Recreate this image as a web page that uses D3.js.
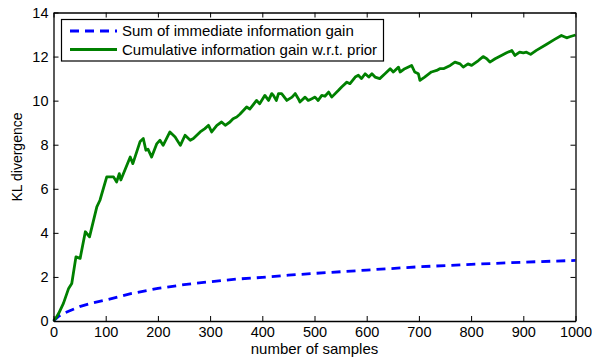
<!DOCTYPE html>
<html>
<head>
<meta charset="utf-8">
<script src="https://cdn.jsdelivr.net/npm/d3@7"></script>
<style>
  body { margin: 0; background: #fff; }
  text { font-family: "Liberation Sans", Arial, sans-serif; fill: #000; }
</style>
</head>
<body>
<div id="chart"></div>
<script>
// Sum of immediate information gain (blue dashed)
const blueN = [0, 10, 20, 30, 50, 75, 100, 150, 200, 250, 300, 350, 400, 450, 500, 600, 700, 800, 900, 1000];
const blueVals = [0, 0.22, 0.35, 0.45, 0.65, 0.82, 0.95, 1.25, 1.48, 1.65, 1.78, 1.9, 1.98, 2.08, 2.16, 2.31, 2.46, 2.57, 2.67, 2.75];

// Cumulative information gain w.r.t. prior (green)
const greenN = [0, 5, 10, 19, 29, 35, 43, 51, 61, 69, 83, 89, 102, 115, 121, 126, 129, 147, 152, 166,
  172, 177, 181, 188, 198, 204, 210, 223, 233, 243, 252, 262, 268, 281, 290, 297, 303, 313, 322, 329,
  338, 344, 351, 357, 370, 376, 389, 395, 405, 412, 418, 421, 427, 431, 437, 447, 457, 463, 469, 472,
  482, 488, 495, 501, 507, 514, 520, 527, 533, 546, 552, 562, 568, 578, 584, 590, 597, 604, 610, 616,
  625, 635, 645, 651, 661, 664, 673, 686, 692, 699, 702, 711, 724, 734, 740, 747, 753, 760, 769, 779,
  785, 794, 801, 814, 823, 830, 836, 846, 858, 868, 878, 884, 893, 900, 906, 914, 925, 944, 960, 973,
  983, 989, 1000];
const greenVals = [0, 0.15, 0.35, 0.8, 1.48, 1.7, 2.91, 2.84, 4.05, 3.82, 5.18, 5.48, 6.54, 6.54, 6.31, 6.69, 6.4, 7.44, 7.14, 8.15,
  8.28, 7.75, 7.8, 7.44, 8.05, 8.2, 7.97, 8.58, 8.35, 7.97, 8.43, 8.2, 8.28, 8.58, 8.73, 8.88, 8.58, 8.88, 9.03, 8.88,
  9.03, 9.18, 9.26, 9.38, 9.71, 9.62, 10.01, 9.86, 10.24, 10.01, 10.32, 10.25, 10.01, 10.32, 10.32, 10.01, 10.16, 10.32, 10.09, 9.94,
  10.16, 10.01, 10.09, 10.16, 10.01, 10.24, 10.2, 10.39, 10.16, 10.47, 10.62, 10.84, 10.77, 11.07, 11.15, 11.0, 11.22, 11.07, 11.22, 11.07,
  11.0, 11.22, 11.45, 11.3, 11.52, 11.3, 11.45, 11.6, 11.3, 11.22, 10.92, 11.07, 11.3, 11.37, 11.45, 11.45, 11.52, 11.6, 11.75, 11.67,
  11.52, 11.67, 11.6, 11.82, 12.0, 11.9, 11.75, 11.9, 12.05, 12.17, 12.28, 12.05, 12.2, 12.17, 12.2, 12.1, 12.28, 12.55, 12.78, 12.96,
  12.85, 12.9, 12.98];

const xTicks = d3.range(0, 1001, 100);
const yTicks = d3.range(0, 15, 2);
const legendLabels = ['Sum of immediate information gain', 'Cumulative information gain w.r.t. prior'];

const width = 592, height = 358;
const margin = { top: 12.5, right: 16.5, bottom: 37, left: 53.5 };

const svg = d3.select('#chart')
    .append('svg')
    .attr('width', width)
    .attr('height', height);

const x = d3.scaleLinear().domain([0, 1000]).range([margin.left, width - margin.right]);
const y = d3.scaleLinear().domain([0, 14]).range([height - margin.bottom, margin.top]);

// lines
const line = d3.line().x(d => x(d[0])).y(d => y(d[1]));

svg.append('path')
    .datum(blueN.map((n, i) => [n, blueVals[i]]))
    .attr('d', line)
    .attr('fill', 'none')
    .attr('stroke', '#0000ff')
    .attr('stroke-width', 2.8)
    .attr('stroke-dasharray', '9,6');

svg.append('path')
    .datum(greenN.map((n, i) => [n, greenVals[i]]))
    .attr('d', line)
    .attr('fill', 'none')
    .attr('stroke', '#008000')
    .attr('stroke-width', 2.8)
    .attr('stroke-linejoin', 'round');

// axes: ticks point inward, mirrored on top and right
const fmt = d3.format('d');
svg.append('g')
    .attr('transform', `translate(0,${y(0)})`)
    .call(d3.axisBottom(x).tickValues(xTicks).tickFormat(fmt).tickSizeInner(-5).tickSizeOuter(0).tickPadding(6));
svg.append('g')
    .attr('transform', `translate(${x(0)},0)`)
    .call(d3.axisLeft(y).tickValues(yTicks).tickFormat(fmt).tickSizeInner(-5).tickSizeOuter(0).tickPadding(5));
svg.append('g')
    .attr('transform', `translate(0,${y(14)})`)
    .call(d3.axisTop(x).tickValues(xTicks).tickSizeInner(-5).tickSizeOuter(0).tickFormat(''));
svg.append('g')
    .attr('transform', `translate(${x(1000)},0)`)
    .call(d3.axisRight(y).tickValues(yTicks).tickSizeInner(-5).tickSizeOuter(0).tickFormat(''));

svg.selectAll('.domain').attr('stroke', '#000').attr('stroke-width', 1.3);
svg.selectAll('.tick line').attr('stroke', '#000');
svg.selectAll('.tick text').style('font-size', '14.5px').attr('fill', '#000');

// axis titles
svg.append('text')
    .attr('x', (x(0) + x(1000)) / 2)
    .attr('y', 354)
    .attr('text-anchor', 'middle')
    .style('font-size', '15px')
    .text('number of samples');
svg.append('text')
    .attr('transform', 'translate(22,157) rotate(-90)')
    .attr('text-anchor', 'middle')
    .style('font-size', '14px')
    .text('KL divergence');

// legend
const legend = svg.append('g');
legend.append('rect')
    .attr('x', 61.5).attr('y', 19.5)
    .attr('width', 322).attr('height', 41.5)
    .attr('fill', '#fff').attr('stroke', '#000').attr('stroke-width', 1.2);
const legendStyles = [
    { color: '#0000ff', dash: '9,6' },
    { color: '#008000', dash: null }
];
legendLabels.forEach((lab, i) => {
    const ly = 31 + i * 18.5;
    legend.append('line')
        .attr('x1', 70).attr('x2', 117)
        .attr('y1', ly).attr('y2', ly)
        .attr('stroke', legendStyles[i].color)
        .attr('stroke-width', 2.8)
        .attr('stroke-dasharray', legendStyles[i].dash);
    legend.append('text')
        .attr('x', 122).attr('y', ly + 5.2)
        .style('font-size', '15px')
        .text(lab);
});
</script>
</body>
</html>
